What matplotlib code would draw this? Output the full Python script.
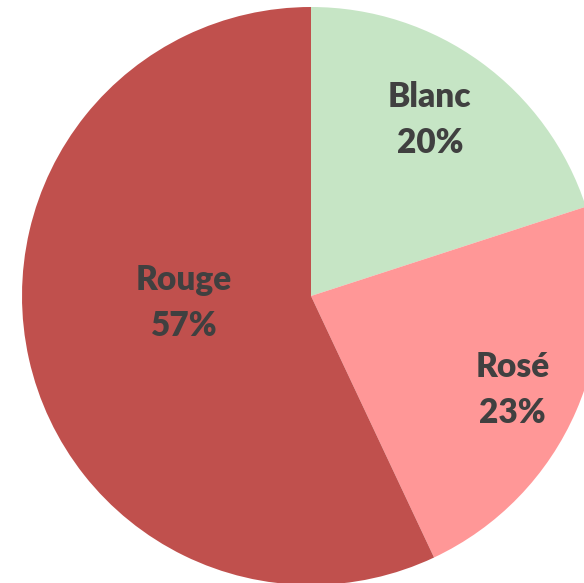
import matplotlib
matplotlib.use("Agg")
import matplotlib.pyplot as plt
import numpy as np

categories = ["Blanc", "Rosé", "Rouge"]
values = [20, 23, 57]
colors = ["#C6E5C5", "#FF9797", "#C0504D"]

# label placement (fraction of radius, angle in degrees)
label_pos = [(0.735, 56.0), (0.77, -25.0), (0.44, 183.0)]

W, H = 584, 583
fig = plt.figure(figsize=(W / 100, H / 100), dpi=100)
ax = fig.add_axes([0, 0, 1, 1])
cx, cy, R = 311, 296, 289
ax.pie(values, colors=colors, startangle=90, counterclock=False, radius=1,
       wedgeprops=dict(linewidth=0))
ax.set_xlim(-cx / R, (W - cx) / R)
ax.set_ylim(-(H - cy) / R, cy / R)
ax.set_aspect("equal")
ax.axis("off")

total = sum(values)
for cat, v, (d, a) in zip(categories, values, label_pos):
    x, y = d * np.cos(np.radians(a)), d * np.sin(np.radians(a))
    ax.text(x, y, f"{cat}\n{round(100 * v / total)}%", ha="center", va="center",
            fontsize=24, fontweight="heavy", family="Lato", color="#404040",
            linespacing=1.55)

fig.savefig("out.png", dpi=100)
